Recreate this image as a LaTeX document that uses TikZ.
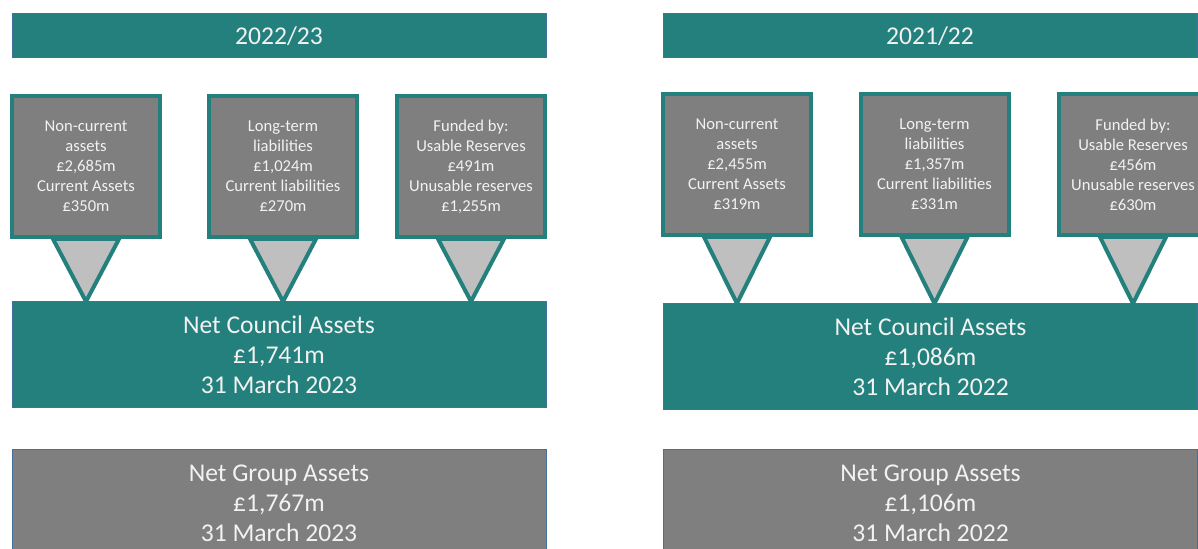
\documentclass[tikz,border=0pt]{standalone}
\usepackage{fontspec}
\setmainfont{Carlito}
\usepackage{xcolor}
\usepackage{tikz}
\usetikzlibrary{calc}

\definecolor{teal}{RGB}{35,128,124}
\definecolor{boxgrey}{RGB}{127,127,127}
\definecolor{tipgrey}{RGB}{191,191,191}
\definecolor{edge}{RGB}{65,113,156}
\definecolor{label}{RGB}{242,242,242}

\begin{document}
\begin{tikzpicture}[x=0.5pt, y=-0.5pt,
  header/.style={draw=edge, line width=0.5pt, fill=teal, text=label,
    minimum width=267pt, minimum height=22pt, inner sep=0pt, font=\fontsize{12.8}{15}\selectfont},
  part/.style={draw=teal, line width=2pt, fill=boxgrey, text=label, align=center,
    minimum width=74pt, minimum height=70.5pt, inner sep=0pt, font=\fontsize{8.3}{10}\selectfont},
  total/.style={draw=edge, line width=0.5pt, text=label, align=center,
    minimum width=267pt, minimum height=53pt, inner sep=0pt, font=\fontsize{12.8}{15}\selectfont},
  council/.style={total, fill=teal},
  group/.style={total, fill=boxgrey},
  pointer/.style={draw=teal, line width=2pt, fill=tipgrey}
]
\useasboundingbox (0,0) rectangle (1198,549);
\clip (0,0) rectangle (1198,549);

% year headings
\node[header] (yearA) at (279,36) {2022/23};
\node[header] (yearB) at (930,36) {2021/22};

% balance sheet parts, 2022/23
\node[part] (assetsA) at (86,166.5) {Non-current\\assets\\£2,685m\\Current Assets\\£350m};
\node[part] (liabA) at (283,166.5) {Long-term\\liabilities\\£1,024m\\Current liabilities\\£270m};
\node[part] (fundA) at (471,166.5) {Funded by:\\Usable Reserves\\£491m\\Unusable reserves\\£1,255m};

% balance sheet parts, 2021/22
\node[part] (assetsB) at (737,164.5) {Non-current\\assets\\£2,455m\\Current Assets\\£319m};
\node[part] (liabB) at (934.5,164.5) {Long-term\\liabilities\\£1,357m\\Current liabilities\\£331m};
\node[part] (fundB) at (1133,164.5) {Funded by:\\Usable Reserves\\£456m\\Unusable reserves\\£630m};

% totals
\node[council] (netA) at (279,355) {Net Council Assets\\£1,741m\\31 March 2023};
\node[council] (netB) at (930.5,357) {Net Council Assets\\£1,086m\\31 March 2022};
\node[group] (groupA) at (279,503) {Net Group Assets\\£1,767m\\31 March 2023};
\node[group] (groupB) at (930.5,503) {Net Group Assets\\£1,106m\\31 March 2022};

% pointers down to the council totals
\foreach \p/\n in {assetsA/netA, liabA/netA, fundA/netA, assetsB/netB, liabB/netB, fundB/netB}
  \draw[pointer] ($(\p.south)+(-33,0)$) -- ($(\p.south)+(33,0)$) -- (\p.south |- \n.north) -- cycle;
\end{tikzpicture}
\end{document}
